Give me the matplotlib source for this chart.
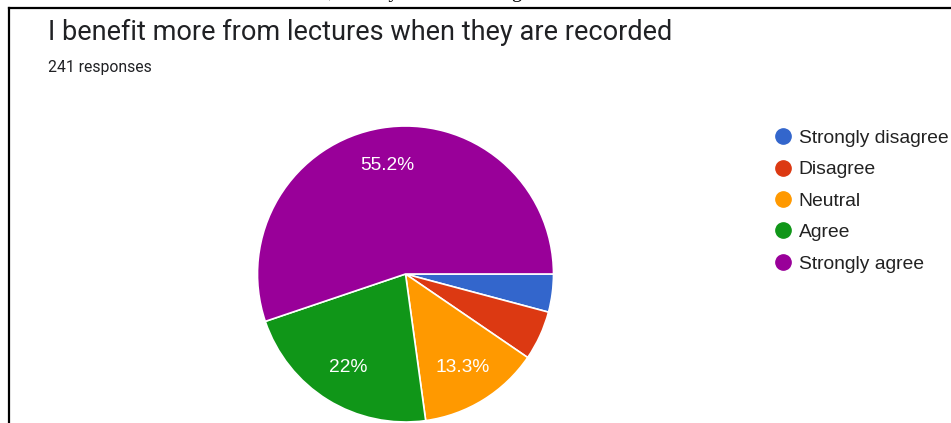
import matplotlib
matplotlib.use("Agg")
import matplotlib.pyplot as plt
from matplotlib.lines import Line2D

# Survey answers (241 responses)
categories = ["Strongly disagree", "Disagree", "Neutral", "Agree", "Strongly agree"]
counts = [10, 13, 32, 53, 133]
colors = ["#3366cc", "#dc3912", "#ff9900", "#109618", "#990099"]
title = "I benefit more from lectures when they are recorded"
subtitle = "241 responses"

W, H = 951, 423
fig = plt.figure(figsize=(W / 100, H / 100), dpi=100)
fig.patch.set_facecolor("white")

# frame lines of the embedded card
fig.add_artist(Line2D([9 / W, 9 / W], [0, 1 - 8 / H], color="black", lw=1.6,
                      transform=fig.transFigure))
fig.add_artist(Line2D([9 / W, 1], [1 - 8 / H, 1 - 8 / H], color="black", lw=1.6,
                      transform=fig.transFigure))

# line of document text above the card (mostly outside the page)
fig.text(98 / W, 1 + 2.5 / H, "When lectures are recorded, so they benefit during",
         family="Liberation Serif", fontsize=15, color="black",
         ha="left", va="baseline")

fig.text(48 / W, 1 - 40 / H, title, family="Roboto", fontsize=19.5,
         color="#202124", ha="left", va="baseline")
fig.text(48 / W, 1 - 72 / H, subtitle, family="Roboto", fontsize=11.3,
         color="#202124", ha="left", va="baseline")

# pie
cx, cy, r = 405.5, 274, 148
ax = fig.add_axes([(cx - r) / W, (H - cy - r) / H, 2 * r / W, 2 * r / H])


def pct_label(p):
    if p < 10:
        return ""
    s = f"{p:.1f}"
    if s.endswith(".0"):
        s = s[:-2]
    return s + "%"


wedges, texts, autotexts = ax.pie(
    counts, colors=colors, startangle=0, counterclock=False,
    autopct=pct_label, pctdistance=0.74,
    wedgeprops=dict(edgecolor="white", linewidth=1.2),
    textprops=dict(color="white", fontsize=13.8, family="Liberation Sans"))
ax.set_xlim(-1, 1)
ax.set_ylim(-1, 1)
ax.set_aspect("equal")
ax.axis("off")

handles = [Line2D([], [], marker="o", linestyle="none", markersize=11,
                  markerfacecolor=c, markeredgecolor=c) for c in colors]
fig.legend(handles, categories, loc="upper left",
           bbox_to_anchor=(773 / W, 1 - 129.5 / H), frameon=False,
           prop=dict(family="Liberation Sans", size=13.9),
           labelcolor="#222222", handlelength=1.0, handletextpad=0.33,
           labelspacing=0.72, borderpad=0, borderaxespad=0)

fig.savefig("out.png", dpi=100, facecolor="white")
